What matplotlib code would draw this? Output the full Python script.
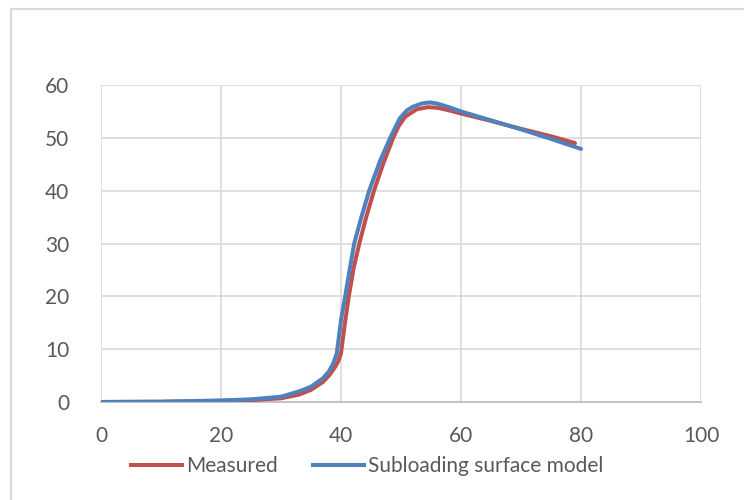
import matplotlib
matplotlib.use("Agg")
import matplotlib.pyplot as plt
from matplotlib.lines import Line2D

# Data
meas_x = [0, 10, 20, 25, 30, 33, 35, 37, 38, 39, 39.5, 40, 40.6, 41.3, 42.1, 43.05, 44.2, 45.5,
          47, 48.7, 49.6, 50.7, 52.6, 54.5, 56, 58, 60, 65, 70, 75, 79]
meas_y = [0, 0.05, 0.2, 0.35, 0.7, 1.4, 2.3, 3.8, 5.0, 6.6, 7.6, 9.2, 14.5, 20, 25.3, 30, 35, 40,
          45, 50, 52.2, 54, 55.4, 55.8, 55.7, 55.2, 54.6, 53.2, 51.7, 50.3, 49.0]
model_x = [0, 10, 20, 25, 30, 33, 35, 37, 38, 38.7, 39.3, 40.0, 40.7, 41.4, 42.2, 43.4, 44.7, 46.5,
           48.2, 49.8, 51, 52, 53.5, 54.8, 56, 58, 60, 65, 70, 75, 80]
model_y = [0, 0.05, 0.3, 0.5, 1.0, 2.0, 2.9, 4.5, 5.8, 7.3, 9.2, 15.5, 20, 24.8, 30, 35, 40, 45.6,
           50, 53.7, 55.2, 55.9, 56.5, 56.7, 56.5, 55.8, 55.0, 53.3, 51.6, 49.8, 47.9]
series_names = ["Measured", "Subloading surface model"]
x_ticks = [0, 20, 40, 60, 80, 100]
y_ticks = [0, 10, 20, 30, 40, 50, 60]

RED = "#c0504d"
BLUE = "#4f81bd"
GRID = "#d9d9d9"
TXT = "#595959"

plt.rcParams["font.family"] = ["Lato", "DejaVu Sans"]

fig = plt.figure(figsize=(7.44, 5.0), dpi=100)
W, H = 744, 500
ax = fig.add_axes([101 / W, 1 - 402 / H, 600 / W, 317 / H])

ax.plot(meas_x, meas_y, color=RED, lw=2.9, solid_capstyle="round", solid_joinstyle="round", zorder=3)
ax.plot(model_x, model_y, color=BLUE, lw=2.9, solid_capstyle="round", solid_joinstyle="round", zorder=4)

ax.set_xlim(0, 100)
ax.set_ylim(0, 60)
ax.set_xticks(x_ticks)
ax.set_yticks(y_ticks)
ax.grid(True, color=GRID, lw=1.2, zorder=0)
for s in ["top", "right", "left"]:
    ax.spines[s].set_visible(False)
ax.spines["bottom"].set_color("#bfbfbf")
ax.spines["bottom"].set_linewidth(1.3)
ax.spines["bottom"].set_zorder(2)
ax.tick_params(length=0, labelsize=15, colors=TXT)
ax.tick_params(axis="x", pad=17)
ax.tick_params(axis="y", pad=23)

handles = [Line2D([0], [0], color=RED, lw=2.9), Line2D([0], [0], color=BLUE, lw=2.9)]
fig.legend(handles, series_names, loc="center", bbox_to_anchor=(367 / W, 1 - 466 / H),
           ncol=2, frameon=False, fontsize=15, labelcolor=TXT, handlelength=2.45,
           handletextpad=0.2, columnspacing=1.7)

# chart border (left/top visible)
fig.add_artist(Line2D([11 / W, 11 / W], [0, 1 - 9 / H], color=GRID, lw=1.5, transform=fig.transFigure))
fig.add_artist(Line2D([11 / W, 1], [1 - 9 / H, 1 - 9 / H], color=GRID, lw=1.5, transform=fig.transFigure))

fig.savefig("out.png", dpi=100)
